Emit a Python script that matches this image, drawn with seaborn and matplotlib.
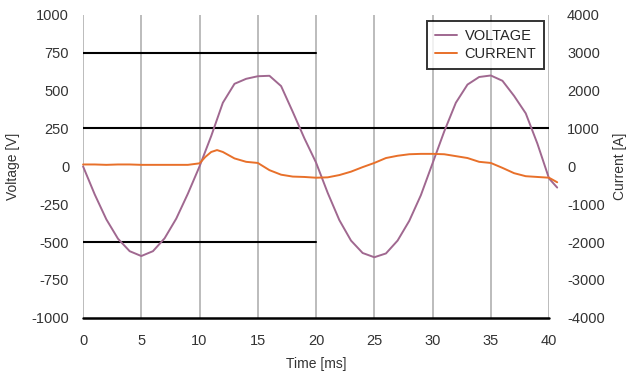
import numpy as np
import pandas as pd
import matplotlib
matplotlib.use("Agg")
import matplotlib.pyplot as plt
import seaborn as sns
from matplotlib.lines import Line2D

# time in ms
time_v = [0, 1, 2, 3, 4, 5, 6, 7, 8, 9, 10, 11, 12, 13, 14, 15, 16, 17, 18, 19, 20,
          21, 22, 23, 24, 25, 26, 27, 28, 29, 30, 31, 32, 33, 34, 35, 36, 37, 38, 39, 40, 40.7]
voltage = [0, -185, -350, -478, -560, -592, -560, -475, -345, -180, 0, 200, 420, 545, 578, 595,
           598, 530, 360, 185, 25, -175, -355, -490, -572, -600, -575, -490, -360, -190, 20,
           230, 420, 540, 590, 600, 565, 465, 350, 150, -80, -140]

time_i = [0, 1, 2, 3, 4, 5, 6, 7, 8, 9, 10, 10.5, 11, 11.5, 12, 13, 14, 15, 16, 17, 18, 19, 20,
          21, 22, 23, 24, 25, 26, 27, 28, 29, 30, 31, 32, 33, 34, 35, 36, 37, 38, 39, 40, 40.7]
current = [50, 50, 40, 50, 50, 40, 40, 40, 40, 40, 80, 250, 380, 430, 380, 210, 120, 90, -100,
           -220, -270, -280, -300, -290, -230, -140, -20, 90, 220, 280, 320, 330, 330, 320, 270,
           220, 120, 90, -40, -180, -260, -280, -300, -420]

v_ticks = [-1000, -750, -500, -250, 0, 250, 500, 750, 1000]
i_ticks = [-4000, -3000, -2000, -1000, 0, 1000, 2000, 3000, 4000]
x_ticks = [0, 5, 10, 15, 20, 25, 30, 35, 40]

sns.set_style("white")
plt.rcParams['font.family'] = ['Liberation Sans', 'DejaVu Sans']
plt.rcParams['axes.unicode_minus'] = False

v_col = "#a06890"
i_col = "#e8702a"

fig = plt.figure(figsize=(6.34, 3.82), dpi=100)
ax = fig.add_axes([0.131, 0.168, 0.735, 0.793])
ax2 = ax.twinx()

df_v = pd.DataFrame({"t": time_v, "v": voltage})
df_i = pd.DataFrame({"t": time_i, "i": current})

# gridlines as in the reference
for xt in x_ticks:
    ax.axvline(xt, color="#b0b0b0", lw=1.2, zorder=0)
ax.axhline(750, xmin=0, xmax=0.5, color="black", lw=1.5, zorder=1)
ax.axhline(250, xmin=0, xmax=1.0, color="black", lw=1.5, zorder=1)
ax.axhline(-500, xmin=0, xmax=0.5, color="black", lw=1.5, zorder=1)
ax.axhline(-1000, color="black", lw=1.8, zorder=1, clip_on=False)

sns.lineplot(data=df_v, x="t", y="v", ax=ax, color=v_col, lw=1.4, clip_on=False, legend=False)
sns.lineplot(data=df_i, x="t", y="i", ax=ax2, color=i_col, lw=1.4, clip_on=False, legend=False)

ax.set_xlim(0, 40)
ax.set_ylim(-1000, 1000)
ax2.set_ylim(-4000, 4000)
ax.set_xticks(x_ticks)
ax.set_yticks(v_ticks)
ax2.set_yticks(i_ticks)

for a in (ax, ax2):
    for s in a.spines.values():
        s.set_visible(False)
    a.tick_params(length=0, labelsize=10.5, colors="#333333")
ax.tick_params(axis="y", pad=10)
ax.tick_params(axis="x", pad=12)
ax2.tick_params(axis="y", pad=13)

ax.set_xlabel("Time [ms]", fontsize=10, color="#333333", labelpad=6)
ax.set_ylabel("Voltage [V]", fontsize=10, color="#333333", labelpad=8)
ax2.set_ylabel("Current [A]", fontsize=10, color="#333333", labelpad=6, rotation=90)

handles = [Line2D([], [], color=v_col, lw=1.4), Line2D([], [], color=i_col, lw=1.4)]
leg = ax2.legend(handles, ["VOLTAGE", "CURRENT"], loc="upper right",
                 bbox_to_anchor=(0.99, 0.98), fontsize=10.5, frameon=True, fancybox=False,
                 handlelength=1.5, handletextpad=0.5, borderpad=0.55, labelspacing=0.25,
                 borderaxespad=0)
leg.get_frame().set_edgecolor("black")
leg.get_frame().set_linewidth(1.4)

fig.savefig("out.png", dpi=100)
